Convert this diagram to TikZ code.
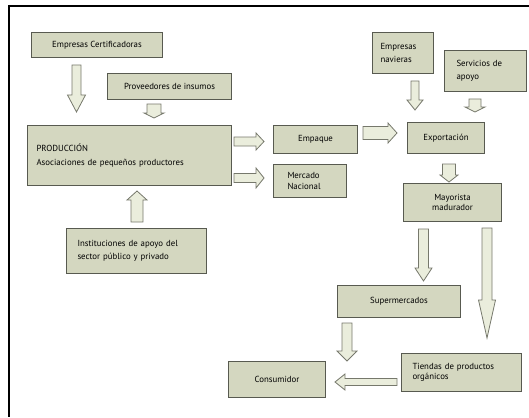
\documentclass[tikz,border=0pt]{standalone}
\usepackage{fontspec}
\setmainfont{PT Sans}
\usetikzlibrary{calc, positioning}

\definecolor{cajafondo}{RGB}{212,215,192}
\definecolor{cajaborde}{RGB}{88,90,80}
\definecolor{flechafondo}{RGB}{234,237,220}
\definecolor{flechaborde}{RGB}{118,120,108}

\tikzset{
  caja/.style={draw=cajaborde, fill=cajafondo, line width=1pt, anchor=north west,
    inner sep=0pt, font=\fontsize{8.8}{10.5}\selectfont},
  izq/.style 2 args={text width=#1, inner xsep=#2, align=left},
  flw/.store in=\flw, flh/.store in=\flh, fll/.store in=\fll,
  flw=4.5pt, flh=9pt, fll=10pt,
  flecha/.style={draw=flechaborde, fill=flechafondo, line width=0.8pt,
    to path={let \p1=(\tikztostart), \p2=(\tikztotarget), \p3=($(\p2)!\fll!(\p1)$) in
      ($(\p1)!\flw!90:(\p2)$) -- ($(\p3)!\flw!90:(\p2)$) -- ($(\p3)!\flh!90:(\p2)$)
      -- (\p2) -- ($(\p3)!\flh!-90:(\p2)$) -- ($(\p3)!\flw!-90:(\p2)$)
      -- ($(\p1)!\flw!-90:(\p2)$) -- cycle}}
}

\begin{document}
\begin{tikzpicture}[x=1pt, y=-1pt]
\useasboundingbox (0,0) rectangle (529,417);
% marco
\draw[line width=2pt] (8,6) -- (529,6);
\draw[line width=1.6pt] (9,5) -- (9,417);
%
\node[caja, minimum width=131, minimum height=25] (cert) at (31,32) {Empresas Certificadoras};
\node[caja, minimum width=124, minimum height=26] (prov) at (107,73) {Proveedores de insumos};
\node[caja, izq={186pt}{9pt}, minimum height=60] (prod) at (27,125)
  {PRODUCCIÓN\\[4pt]Asociaciones de pequeños productores};
\node[caja, izq={118pt}{11pt}, minimum height=45] (inst) at (66,228)
  {Instituciones de apoyo del\\[2pt]sector público y privado};
\node[caja, minimum width=84, minimum height=28] (emp) at (273,125) {Empaque};
\node[caja, izq={45pt}{14pt}, minimum height=33] (merc) at (273,164) {Mercado\\Nacional};
\node[caja, izq={45pt}{8pt}, minimum height=41] (nav) at (372,32) {Empresas\\[2pt]navieras};
\node[caja, izq={58pt}{12pt}, minimum height=41] (serv) at (444,50) {Servicios de\\[2pt]apoyo};
\node[caja, minimum width=77, minimum height=31] (exp) at (407,122) {Exportación};
\node[caja, minimum width=98, minimum height=38, align=center] (may) at (403,183) {Mayorista\\madurador};
\node[caja, minimum width=123, minimum height=32] (sup) at (337,285) {Supermercados};
\node[caja, izq={98pt}{11pt}, minimum height=38] (tie) at (401,353) {Tiendas de productos\\orgánicos};
\node[caja, minimum width=97, minimum height=36] (cons) at (228,361) {Consumidor};
%
\draw[flecha, flw=4.5pt, flh=9pt, fll=17pt] ($(cert.south west)+(45.5,7)$) to ($(cert.south west |- prod.north)+(45.5,-13)$);
\draw[flecha, flw=7pt, flh=10pt, fll=5pt] ($(prov.south west)+(47,4)$) to ($(prov.south west |- prod.north)+(47,-7)$);
\draw[flecha, flw=6pt, flh=10pt, fll=9pt] ($(inst.north west)+(71,-6)$) to ($(inst.north west |- prod.south)+(71,5)$);
\draw[flecha, flw=4.5pt, flh=8.5pt, fll=8pt] ($(prod.east |- emp.north)+(2,16.5)$) to ($(emp.north west)+(-9,16.5)$);
\draw[flecha, flw=4.5pt, flh=10pt, fll=8pt] ($(prod.east |- merc.north)+(2,14)$) to ($(merc.north west)+(-9,14)$);
\draw[flecha, flw=6.5pt, flh=10pt, fll=9pt] ($(emp.north east)+(5,8)$) to ($(emp.north east -| exp.west)+(-10,8)$);
\draw[flecha, flw=4pt, flh=8pt, fll=10pt] ($(nav.south west)+(43,7)$) to ($(nav.south west |- exp.north)+(43,-12)$);
\draw[flecha, flw=6pt, flh=10pt, fll=5pt] ($(serv.south west)+(31,7)$) to ($(serv.south west |- exp.north)+(31,-10)$);
\draw[flecha, flw=6.5pt, flh=9pt, fll=7pt] ($(exp.south west)+(42,10)$) to ($(exp.south west |- may.north)+(42,-1)$);
\draw[flecha, flw=5pt, flh=8.5pt, fll=13pt] ($(may.south west)+(20.5,7)$) to ($(may.south west |- sup.north)+(20.5,-4)$);
\draw[flecha, flw=5pt, flh=8.5pt, fll=38pt] ($(may.south west)+(84,6)$) to ($(may.south west |- tie.north)+(84,-15)$);
\draw[flecha, flw=5pt, flh=10pt, fll=10pt] ($(sup.south west)+(10,5)$) to ($(sup.south west |- cons.north)+(10,0)$);
\draw[flecha, flw=3.5pt, flh=8pt, fll=10pt] ($(tie.north west)+(-4,29)$) to ($(tie.north west -| cons.east)+(9,29)$);
\end{tikzpicture}
\end{document}
